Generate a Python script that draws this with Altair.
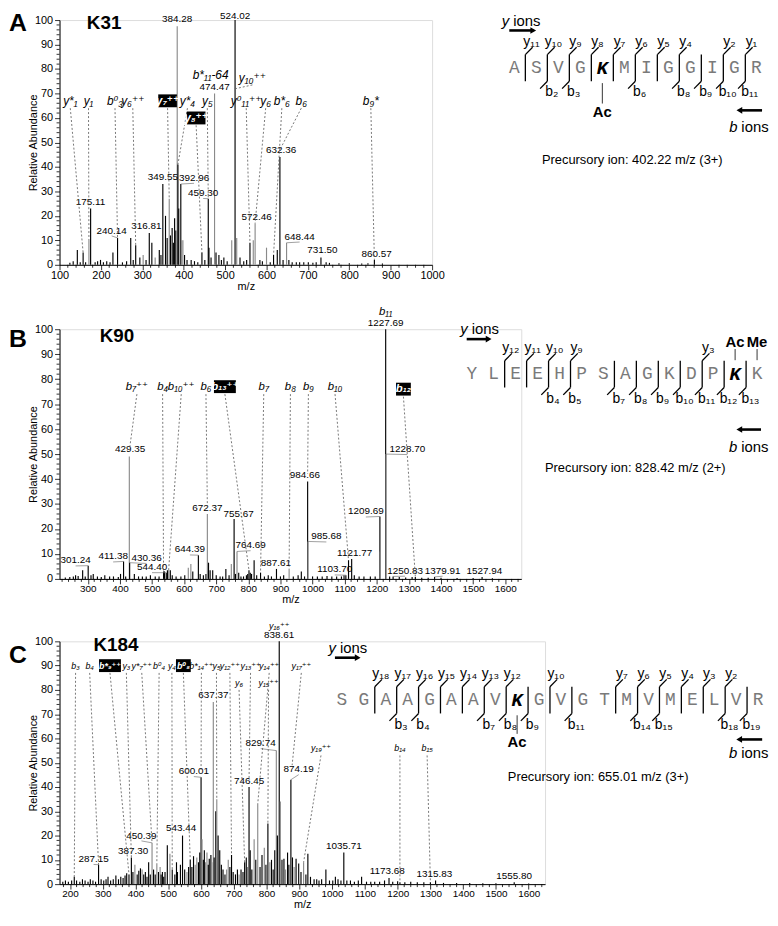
import altair as alt
import pandas as pd

SANS = "Liberation Sans, Arial, DejaVu Sans, sans-serif"
MONO = "Liberation Mono, Courier New, DejaVu Sans Mono, monospace"

# ======================= DATA =======================
# ---------- Panel A : K31 ----------
A_TITLE = "K31"
A_DOMAIN = [100, 1000]
A_MAJOR = [100, 200, 300, 400, 500, 600, 700, 800, 900, 1000]
A_PEAKS = [
    (125, 0.8, "d"), (133, 1.5, "d"), (143, 6, "d"), (150, 1, "d"), (157, 5, "d"), (163, 1, "d"),
    (171, 10, "l"), (175.11, 23, "d"), (186, 1, "d"), (192, 1.5, "d"), (199, 2, "d"), (206, 1, "d"),
    (214, 1.5, "d"), (222, 1, "d"), (229, 5, "d"), (240.14, 11, "d"), (252, 1, "d"), (262, 1.5, "d"),
    (272, 11, "d"), (278, 2, "d"), (284, 8, "d"), (294, 3, "d"), (302, 4, "l"), (309, 2, "d"),
    (316.81, 13, "d"), (323, 9, "d"), (331, 3, "l"), (341, 6, "d"), (345, 4, "d"), (349.55, 33, "d"),
    (356, 20, "d"), (360, 11, "d"), (365, 27, "l"), (368, 12, "d"), (372, 15, "d"), (375, 9, "d"),
    (378, 19, "d"), (381, 14, "d"), (384.28, 97.5, "l"), (386, 41, "d"), (388, 23, "d"),
    (392.96, 33, "d"), (395, 10, "l"), (398, 10, "l"), (402, 4, "d"), (408, 2, "d"), (418, 2, "d"),
    (426, 1.5, "d"), (434, 1, "d"), (444, 5, "d"), (451, 2, "d"), (459.30, 27, "d"), (461, 7, "d"),
    (466, 3, "d"), (474.47, 70, "l"), (478, 5, "d"), (485, 4, "d"), (491, 2, "d"), (497, 3, "d"),
    (505, 1.5, "d"), (516, 10, "l"), (524.02, 100, "d"), (528, 11, "l"), (536, 3, "d"), (545, 1.5, "d"),
    (552, 2, "d"), (560, 9, "d"), (568, 10, "l"), (572.46, 17, "l"), (584, 2, "d"), (590, 1.5, "d"),
    (600, 7, "l"), (609, 1, "d"), (617, 4, "d"), (626, 6, "d"), (632.36, 44, "d"), (640, 2, "d"),
    (648.44, 9, "l"), (654, 2, "d"), (662, 1, "d"), (672, 1, "d"), (680, 1, "d"), (690, 1, "d"),
    (701, 1, "d"), (712, 0.8, "d"), (720, 1, "d"), (731.50, 3, "d"), (744, 1, "d"), (752, 0.8, "d"),
    (775, 0.6, "d"), (800, 0.6, "d"), (830, 0.5, "d"), (845, 0.6, "d"), (860.57, 2, "d"), (880, 0.5, "d"),
]
# (label, peak m/z, peak abundance, label m/z, label abundance)
A_VALUES = [
    ("384.28", 384.28, 97.5, 384.28, 100.6), ("524.02", 524.02, 100, 524.02, 101.7),
    ("474.47", 474.47, 70, 474.47, 72.6), ("632.36", 632.36, 44, 635, 46.8),
    ("349.55", 349.55, 33, 349.55, 35.8), ("392.96", 392.96, 33, 425, 35.5),
    ("459.30", 459.30, 27, 447, 29.3), ("175.11", 175.11, 23, 175.11, 25.8),
    ("240.14", 240.14, 11, 226, 14), ("316.81", 316.81, 13, 310, 16),
    ("572.46", 572.46, 17, 576, 19.6), ("648.44", 648.44, 9, 680, 11.5),
    ("731.50", 731.50, 3, 735, 6), ("860.57", 860.57, 2, 866, 4.5),
]
# (ion label, boxed, label m/z, label abundance, target m/z, target abundance)
A_IONS = [
    ("y*₁", False, 126, 67, 157, 5), ("y₁", False, 170, 67, 171, 10),
    ("b⁰₃", False, 234, 67, 240.14, 11), ("y₆⁺⁺", False, 277, 67, 284, 8),
    ("y₇⁺⁺", True, 361, 67, 365, 27), ("y*₄", False, 409, 67, 386, 41),
    ("y₈⁺⁺", True, 430, 60, 444, 5), ("y₅", False, 457, 67, 459.3, 27),
    ("b*₁₁-64", False, 465, 77.5, None, None), ("y₁₀⁺⁺", False, 566, 76.5, 526, 72),
    ("y⁰₁₁⁺⁺", False, 551, 67, 560, 9), ("y₆", False, 598, 67, 572.46, 17),
    ("b*₆", False, 637, 67, 617, 4), ("b₆", False, 684, 67, 632.36, 47),
    ("b₉*", False, 852, 67, 860.57, 2),
]
A_SEQ = "ASVGKMIGGIGR"
A_MOD_RES = [4]
A_Y_CUTS = [1, 2, 3, 4, 5, 6, 7, 8, 10, 11]
A_B_CUTS = [2, 3, 6, 8, 9, 10, 11]
A_PTMS = [("Ac", 4)]
A_PRECURSOR = "Precursory ion: 402.22 m/z (3+)"

# ---------- Panel B : K90 ----------
B_TITLE = "K90"
B_DOMAIN = [212, 1650]
B_MAJOR = [300, 400, 500, 600, 700, 800, 900, 1000, 1100, 1200, 1300, 1400, 1500, 1600]
B_PEAKS = [
    (230, 0.6, "d"), (244, 0.8, "d"), (255, 1, "d"), (262, 1.5, "d"), (270, 1.2, "d"), (284, 3.5, "d"),
    (292, 1, "d"), (301.24, 5.3, "d"), (310, 1.5, "d"), (317, 2, "d"), (330, 1, "d"), (342, 0.8, "d"),
    (353, 1.5, "d"), (368, 1, "d"), (380, 1, "d"), (395, 0.8, "d"), (402, 2, "d"), (411.38, 7, "d"),
    (418, 1, "d"), (429.35, 49, "l"), (430.36, 6.5, "d"), (445, 2, "d"), (458, 1, "d"), (470, 1, "d"),
    (482, 1, "d"), (495, 1.5, "d"), (510, 1, "d"), (522, 1, "d"), (536, 3, "d"), (539, 3, "d"),
    (544.40, 2.5, "d"), (548, 3.5, "d"), (552, 4, "l"), (557, 3.5, "d"), (563, 1.5, "d"), (575, 1, "d"),
    (590, 1, "d"), (602, 1.5, "d"), (613, 4.5, "l"), (621, 6, "l"), (627, 3, "d"), (644.39, 9.5, "d"),
    (650, 2, "d"), (660, 1.5, "d"), (668, 2, "d"), (672.37, 26, "l"), (676, 6.5, "d"), (681, 3.5, "d"),
    (689, 3.5, "d"), (700, 1.5, "d"), (712, 1, "d"), (720, 1, "d"), (730, 4, "d"), (740, 1.5, "d"),
    (747, 6, "l"), (755.67, 24, "d"), (760, 2, "d"), (764.69, 11, "l"), (770, 2.5, "d"), (777, 1, "d"),
    (785, 1, "d"), (794, 1.5, "d"), (798, 2, "d"), (802, 3.5, "d"), (806, 2.5, "d"), (810, 2, "d"),
    (818, 7.5, "d"), (826, 1.5, "d"), (838, 2.5, "d"), (850, 1, "d"), (862, 1.5, "d"), (872, 1, "d"),
    (887.61, 4, "d"), (900, 1, "d"), (910, 1.5, "d"), (927, 4, "l"), (940, 1, "d"), (955, 1.5, "d"),
    (965, 3, "d"), (975, 1, "d"), (984.66, 39, "d"), (985.68, 15, "l"), (1000, 1, "d"), (1015, 1, "d"),
    (1030, 1, "d"), (1045, 1.2, "d"), (1060, 1, "d"), (1075, 1, "d"), (1090, 1, "d"), (1098, 1.5, "d"),
    (1103.70, 1.5, "d"), (1112, 7.5, "d"), (1121.77, 8, "d"), (1130, 1.5, "d"), (1145, 1, "d"),
    (1160, 1, "d"), (1180, 1, "d"), (1195, 1, "d"), (1209.69, 25, "d"), (1210.7, 11, "l"),
    (1227.69, 100, "d"), (1228.70, 50, "l"), (1240, 1, "d"), (1250.83, 1, "d"), (1270, 0.8, "d"),
    (1290, 0.6, "d"), (1310, 0.8, "d"), (1320, 0.8, "d"), (1340, 0.5, "d"), (1360, 0.5, "d"),
    (1379.91, 0.8, "d"), (1400, 0.5, "d"), (1450, 0.4, "d"), (1500, 0.4, "d"), (1527.94, 0.8, "d"),
    (1560, 0.3, "d"),
]
B_VALUES = [
    ("1227.69", 1227.69, 100, 1227.69, 102.6), ("1228.70", 1228.70, 50, 1295, 52),
    ("429.35", 429.35, 49, 432, 52), ("984.66", 984.66, 39, 976, 41.5),
    ("755.67", 755.67, 24, 770, 26), ("672.37", 672.37, 26, 672.37, 28.3),
    ("1209.69", 1209.69, 25, 1166, 27), ("985.68", 985.68, 15, 1043, 17),
    ("764.69", 764.69, 11, 807, 13.5), ("644.39", 644.39, 9.5, 618, 11.8),
    ("1121.77", 1121.77, 8, 1131, 10.3), ("887.61", 887.61, 4, 886, 6.5),
    ("411.38", 411.38, 7, 379, 9), ("430.36", 430.36, 6.5, 483, 8.4),
    ("544.40", 544.40, 2.5, 500, 4.7), ("301.24", 301.24, 5.3, 262, 7.4),
    ("1103.70", 1103.70, 1.5, 1069, 3.8), ("1250.83", 1250.83, 1, 1288, 3.3),
    ("1379.91", 1379.91, 0.8, 1405, 3.3), ("1527.94", 1527.94, 0.8, 1535, 3.3),
]
B_IONS = [
    ("b₇⁺⁺", False, 453, 77, 430, 52), ("b₄", False, 533, 77, 536, 3),
    ("b₁₀⁺⁺", False, 591, 77, 552, 4), ("b₆", False, 668, 77, 672.37, 29),
    ("b₁₃⁺⁺", True, 727, 77, 802, 3.5), ("b₇", False, 848, 77, 838, 2.5),
    ("b₈", False, 931, 77, 927, 4), ("b₉", False, 987, 77, 984.66, 42),
    ("b₁₀", False, 1070, 77, 1112, 7.5), ("b₁₁", False, 1227.69, 107, None, None),
    ("b₁₂", True, 1283, 76, 1320, 1),
]
B_SEQ = "YLEEHPSAGKDPKK"
B_MOD_RES = [12]
B_Y_CUTS = [2, 3, 4, 5, 11]
B_B_CUTS = [4, 5, 7, 8, 9, 10, 11, 12, 13]
B_PTMS = [("Ac", 12), ("Me", 13)]
B_PRECURSOR = "Precursory ion: 828.42 m/z (2+)"

# ---------- Panel C : K184 ----------
C_TITLE = "K184"
C_DOMAIN = [168, 1650]
C_MAJOR = [200, 300, 400, 500, 600, 700, 800, 900, 1000, 1100, 1200, 1300, 1400, 1500, 1600]
C_PEAKS = [
    (178, 1, "d"), (186, 1.5, "d"), (195, 1, "d"), (205, 1.5, "d"), (213, 3, "d"), (220, 1.5, "d"),
    (230, 1, "d"), (238, 2, "d"), (246, 1.5, "d"), (255, 1, "d"), (262, 2, "d"), (270, 1.5, "d"),
    (278, 1, "d"), (287.15, 8, "d"), (295, 2, "d"), (303, 1.5, "d"), (310, 2, "d"), (316, 3, "d"),
    (324, 1.5, "d"), (332, 2, "d"), (340, 3.5, "d"), (348, 2, "d"), (355, 3, "d"), (362, 2.5, "d"),
    (368, 3.5, "d"), (373, 4.5, "d"), (380, 4, "d"), (387.30, 11, "d"), (392, 5, "d"), (398, 8, "l"),
    (405, 4, "d"), (410, 5.5, "d"), (415, 6.5, "d"), (420, 6, "l"), (425, 4, "d"), (430, 5, "d"),
    (435, 3, "d"), (440, 9, "d"), (445, 4, "d"), (450.39, 17, "l"), (455, 6, "d"), (460, 4, "d"),
    (465, 8.5, "l"), (470, 5, "d"), (475, 7, "l"), (478, 4, "d"), (482, 5, "d"), (486, 3, "d"),
    (490, 5, "d"), (497, 16, "d"), (505, 12.5, "l"), (512, 6, "d"), (520, 4, "d"), (525, 9, "d"),
    (528, 5, "d"), (537, 8, "d"), (543.44, 20, "d"), (550, 6, "d"), (557, 5, "l"), (562, 7, "d"),
    (567, 10, "d"), (572, 7, "d"), (577, 11.5, "d"), (582, 8, "l"), (587, 11, "l"), (592, 9, "d"),
    (596, 13, "d"), (600.01, 44, "d"), (603, 18.5, "l"), (607, 10, "d"), (610, 14, "d"), (614, 9, "l"),
    (618, 13, "l"), (622, 8, "d"), (625, 10.5, "d"), (630, 12, "d"), (633, 9, "l"), (637.37, 75, "l"),
    (640, 11, "d"), (645, 30, "d"), (648, 35, "l"), (652, 20, "d"), (657, 14, "d"), (662, 8, "d"),
    (667, 6, "d"), (673, 4, "d"), (678, 6, "l"), (683, 10, "l"), (688, 7, "d"), (693, 12, "d"),
    (698, 5, "d"), (705, 4, "d"), (711, 6, "d"), (716, 4, "l"), (722, 6, "d"), (728, 5, "d"),
    (733, 9, "d"), (738, 11, "d"), (742, 7, "l"), (746.45, 40, "d"), (750, 14, "d"), (755, 6, "d"),
    (762, 18.5, "l"), (767, 10, "d"), (773, 33, "l"), (780, 7, "d"), (786, 12, "d"), (793, 15, "l"),
    (798, 8, "d"), (804, 25, "d"), (810, 9, "l"), (815, 10, "d"), (820, 6, "d"), (825, 14, "d"),
    (829.74, 55, "l"), (833, 20, "d"), (838.61, 100, "d"), (842, 34, "l"), (847, 10, "d"),
    (853, 10.5, "d"), (858, 6, "l"), (864, 13, "d"), (868, 8, "d"), (874.19, 43, "d"), (879, 11, "d"),
    (884, 7, "l"), (890, 10.5, "d"), (898, 8.5, "d"), (905, 5, "d"), (913, 9, "l"), (920, 4, "d"),
    (926, 12.5, "d"), (934, 3, "d"), (945, 2, "d"), (953, 2, "d"), (960, 1.5, "d"), (968, 2, "d"),
    (981, 6, "d"), (992, 1.5, "d"), (1002, 1.5, "d"), (1010, 3, "d"), (1018, 2, "d"), (1027, 1.5, "d"),
    (1035.71, 13, "d"), (1045, 1.5, "d"), (1056, 1.5, "d"), (1068, 1, "d"), (1080, 1.5, "d"),
    (1090, 3, "d"), (1105, 1, "d"), (1118, 1, "d"), (1130, 1, "d"), (1145, 1, "d"), (1160, 1.5, "d"),
    (1173.68, 2.5, "d"), (1185, 1, "d"), (1200, 1.2, "d"), (1207, 0.8, "d"), (1222, 0.8, "d"),
    (1240, 1, "d"), (1260, 0.8, "d"), (1280, 0.8, "d"), (1300, 0.8, "d"), (1315.83, 1.5, "d"),
    (1340, 0.5, "d"), (1380, 0.5, "d"), (1420, 0.5, "d"), (1460, 0.4, "d"), (1500, 0.4, "d"),
    (1555.80, 0.8, "d"), (1600, 0.3, "d"),
]
C_VALUES = [
    ("838.61", 838.61, 100, 838.61, 102.4), ("637.37", 637.37, 75, 637.37, 77.8),
    ("829.74", 829.74, 55, 782, 58), ("600.01", 600.01, 44, 578, 46.5),
    ("874.19", 874.19, 43, 898, 47.3), ("746.45", 746.45, 40, 746.45, 42.6),
    ("543.44", 543.44, 20, 539, 23), ("450.39", 450.39, 17, 418, 20),
    ("387.30", 387.30, 11, 393, 13.8), ("287.15", 287.15, 8, 272, 10.3),
    ("1035.71", 1035.71, 13, 1036, 15.6), ("1173.68", 1173.68, 2.5, 1168, 5.3),
    ("1315.83", 1315.83, 1.5, 1312, 4.3), ("1555.80", 1555.80, 0.8, 1555.80, 3.5),
]
C_IONS = [
    ("b₃", False, 217, 90, 213, 3), ("b₄", False, 260, 90, 287.15, 8),
    ("b*₉⁺⁺", True, 322, 90, 380, 4), ("y₃", False, 372, 90, 387.30, 11),
    ("y*₇⁺⁺", False, 419, 90, 450.39, 17), ("b⁰₄", False, 472, 90, 465, 8.5),
    ("y₄", False, 511, 90, 512, 6), ("b⁰₈", True, 546, 90, 567, 10),
    ("b*₁₄⁺⁺", False, 601, 90, 600.01, 47), ("y₅", False, 647, 90, 648, 35),
    ("y₁₂⁺⁺", False, 688, 90, 693, 12), ("y₁₃⁺⁺", False, 751, 90, 746.45, 43),
    ("y₁₄⁺⁺", False, 808, 90, 773, 33), ("y₆", False, 716, 83, 733, 9),
    ("y₁₅⁺⁺", False, 806, 83, 804, 25), ("y₁₆⁺⁺", False, 838.61, 106.5, None, None),
    ("y₁₇⁺⁺", False, 906, 90, 878, 49), ("y₁₉⁺⁺", False, 966, 56, 913, 9),
    ("b₁₄", False, 1207, 56, 1207, 0.8), ("b₁₅", False, 1290, 56, 1300, 0.8),
]
C_SEQ = "SGAAGAAVKGVGTMVMELVR"
C_MOD_RES = [8]
C_Y_CUTS = [2, 3, 4, 5, 6, 7, 8, 10, 13, 14, 15, 16, 17, 18]
C_B_CUTS = [3, 4, 7, 8, 9, 11, 14, 15, 18, 19]
C_PTMS = [("Ac", 8)]
C_PRECURSOR = "Precursory ion: 655.01 m/z (3+)"

# ======================= LAYOUT =======================
PLOT_LEFT = 59       # page x of the y axes
ROW = 12.5           # px per row of the peptide diagrams
BAR_TOP, BAR_BOT = 1.05, -1.1
TDX, TDY = 0.33, 0.6

LAYOUT = {
    "A": dict(top=15, height=247, width=376, tick_fs=11, val_fs=10, ion_fs=12,
              letter_y=3, title_x=45, title_y=3, pad_top=15, pad_bottom=30,
              pep_x0=518, pep_sp=22.2, pep_row=63,
              yions=(-0.23, 3.8), yarrow=(-0.23, 0.86, 3.0),
              bions=(10.14, -4.8), barrow=(11.26, 10.23, -3.45),
              prec=(5.36, -7.5), ptm=(-1.25, -2.9, -3.6)),
    "B": dict(top=325, height=252, width=466, tick_fs=10, val_fs=10, ion_fs=11.5,
              letter_y=10, title_x=58, title_y=7, pad_top=27, pad_bottom=30,
              pep_x0=475, pep_sp=22.15, pep_row=370,
              yions=(-0.18, 3.6), yarrow=(-0.23, 0.77, 2.8),
              bions=(12.1, -5.9), barrow=(13.18, 12.19, -4.5),
              prec=(7.45, -7.6), ptm=(1.1, 2.0, 2.55)),
    "C": dict(top=638, height=245, width=490, tick_fs=10, val_fs=10, ion_fs=9,
              letter_y=14, title_x=57, title_y=4, pad_top=25, pad_bottom=0,
              pep_x0=344, pep_sp=22.1, pep_row=697,
              yions=(-0.27, 4.15), yarrow=(-0.32, 0.72, 3.4),
              bions=(18.05, -4.3), barrow=(19.19, 18.14, -3.2),
              prec=(11.7, -6.25), ptm=(-1.25, -2.75, -3.45)),
}
SPACING = 6

SUB = str.maketrans("0123456789", "₀₁₂₃₄₅₆₇₈₉")


def sub(n):
    return str(n).translate(SUB)


BOX_SHAPES = {
    "3": "M-1.15,-1L1.15,-1L1.15,1L-1.15,1Z",
    "4": "M-1.45,-1L1.45,-1L1.45,1L-1.45,1Z",
    "5": "M-1.7,-1L1.7,-1L1.7,1L-1.7,1Z",
}


def spectrum(key, peaks, values, ions, dom, major, title, letter):
    L = LAYOUT[key]
    W, H = L["width"], L["height"]
    px_per = W / (dom[1] - dom[0])
    xs = alt.Scale(domain=dom, nice=False, zero=False)
    ys = alt.Scale(domain=[0, 100], nice=False, zero=False)
    xaxis = alt.Axis(values=major, title="m/z", format="d", labelFlush=False, labelOverlap=False,
                     tickSize=5, tickWidth=0.8, tickColor="black", domainColor="black", domainWidth=1,
                     labelColor="black", titleColor="black", labelFontSize=L["tick_fs"],
                     titleFontSize=11, titleFontWeight="normal", labelPadding=0, titlePadding=0,
                     grid=False, labelFont=SANS, titleFont=SANS)
    yaxis = alt.Axis(values=list(range(0, 101, 10)), title="Relative Abundance", format="d",
                     labelFlush=False, labelOverlap=False, tickSize=5, tickWidth=0.8, tickColor="black",
                     domainColor="black", domainWidth=1, labelColor="black", titleColor="black",
                     labelFontSize=11, titleFontSize=11, titleFontWeight="normal", labelPadding=2,
                     titleX=-26, titleBaseline="middle", grid=False, labelFont=SANS, titleFont=SANS)

    def X(f):
        return alt.X(f"{f}:Q", scale=xs, axis=xaxis)

    def Y(f):
        return alt.Y(f"{f}:Q", scale=ys, axis=yaxis)

    pk = pd.DataFrame(peaks, columns=["mz", "ab", "tone"])
    pk["base"] = 0.0
    peaks_layer = alt.Chart(pk).mark_rule(strokeWidth=1.15).encode(
        x=X("mz"), y=Y("base"), y2=alt.Y2("ab"),
        color=alt.Color("tone:N", scale=alt.Scale(domain=["d", "l"], range=["#000000", "#8a8a8a"]),
                        legend=None))

    xm = [v for v in range(int(dom[0]) - int(dom[0]) % 20 + 20, int(dom[1]) + 1, 20) if v % 100]
    xminor = alt.Chart(pd.DataFrame({"mz": xm})).mark_rule(color="black", strokeWidth=0.8).encode(
        x=X("mz"), y=alt.value(H), y2=alt.value(H + 3))
    ym = [v for v in range(2, 100, 2) if v % 10]
    yminor = alt.Chart(pd.DataFrame({"ab": ym})).mark_rule(color="black", strokeWidth=0.8).encode(
        y=Y("ab"), x=alt.value(0), x2=alt.value(-3))

    vl = pd.DataFrame(values, columns=["t", "pmz", "pab", "lmz", "lab"])
    vl["lab2"] = vl["lab"] - 2.2
    lead = vl[(vl["lmz"] - vl["pmz"]).abs() * px_per > 5]
    val_leaders = alt.Chart(lead).mark_rule(color="#777777", strokeWidth=0.7).encode(
        x=X("pmz"), y=Y("pab"), x2=alt.X2("lmz"), y2=alt.Y2("lab2"))
    val_text = alt.Chart(vl).mark_text(fontSize=L["val_fs"], font=SANS, color="black").encode(
        x=X("lmz"), y=Y("lab"), text="t:N")

    io = pd.DataFrame(ions, columns=["t", "boxed", "lmz", "lab", "tmz", "tab"])
    io["bk"] = io["t"].str.len().clip(3, 5).astype(str)
    il = io.dropna(subset=["tmz"]).copy()
    il["ly"] = il["lab"] - 3.0
    ion_leaders = alt.Chart(il).mark_rule(color="#555555", strokeWidth=0.8, strokeDash=[2, 2]).encode(
        x=X("lmz"), y=Y("ly"), x2=alt.X2("tmz"), y2=alt.Y2("tab"))
    boxed = io[io["boxed"]]
    boxes = alt.Chart(boxed).mark_point(filled=True, color="black", opacity=1, size=169).encode(
        x=X("lmz"), y=Y("lab"),
        shape=alt.Shape("bk:N", scale=alt.Scale(domain=list(BOX_SHAPES), range=list(BOX_SHAPES.values())),
                        legend=None))
    ion_text = alt.Chart(io[~io["boxed"]]).mark_text(fontSize=L["ion_fs"], fontStyle="italic",
                                                      font=SANS, color="black").encode(
        x=X("lmz"), y=Y("lab"), text="t:N")
    box_text = alt.Chart(boxed).mark_text(fontSize=L["ion_fs"], fontStyle="italic", fontWeight="bold",
                                          font=SANS, color="white").encode(
        x=X("lmz"), y=Y("lab"), text="t:N")

    letter_l = alt.Chart(pd.DataFrame({"t": [letter]})).mark_text(
        fontSize=25, fontWeight="bold", font=SANS, align="left", baseline="middle", color="black").encode(
        text="t:N", x=alt.value(-51), y=alt.value(L["letter_y"]))
    title_l = alt.Chart(pd.DataFrame({"t": [title]})).mark_text(
        fontSize=19, fontWeight="bold", font=SANS, align="center", baseline="middle", color="black").encode(
        text="t:N", x=alt.value(L["title_x"]), y=alt.value(L["title_y"]))
    spacer = alt.Chart(pd.DataFrame({"t": [0]})).mark_rule(opacity=0).encode(
        x=alt.value(0), y=alt.value(-L["pad_top"]), y2=alt.value(H + L["pad_bottom"]))

    return alt.layer(peaks_layer, xminor, yminor, val_leaders, val_text, ion_leaders, boxes,
                     ion_text, box_text, letter_l, title_l, spacer)


def peptide(key, seq, mods, ycuts, bcuts, ptms, precursor):
    L = LAYOUT[key]
    n = len(seq)
    r0 = L["pep_x0"] - PLOT_LEFT
    xs = alt.Scale(domain=[0, n - 1], range=[r0, r0 + (n - 1) * L["pep_sp"]], nice=False, zero=False)
    rr = L["pep_row"] - L["top"]
    ys = alt.Scale(domain=[-10, 6], range=[rr + 10 * ROW, rr - 6 * ROW], nice=False, zero=False)

    def X(f):
        return alt.X(f"{f}:Q", scale=xs, axis=None)

    def Y(f):
        return alt.Y(f"{f}:Q", scale=ys, axis=None)

    res = pd.DataFrame({"p": list(range(n)), "r": 0.0, "t": list(seq)})
    res["mod"] = res["p"].isin(mods)
    letters = alt.Chart(res[~res["mod"]]).mark_text(font=MONO, fontSize=18, color="#7a7a7a").encode(
        x=X("p"), y=Y("r"), text="t:N")
    mod_letters = alt.Chart(res[res["mod"]]).mark_text(
        font=MONO, fontSize=19, fontWeight="bold", fontStyle="italic", color="black").encode(
        x=X("p"), y=Y("r"), text="t:N")

    cuts = sorted(set(ycuts) | set(bcuts))
    bars = pd.DataFrame({"p": [k - 0.5 for k in cuts], "r1": BAR_BOT, "r2": BAR_TOP})
    ytk = pd.DataFrame({"p": [k - 0.5 for k in ycuts]})
    ytk["p2"] = ytk["p"] + TDX
    ytk["r1"] = BAR_TOP
    ytk["r2"] = BAR_TOP + TDY
    btk = pd.DataFrame({"p": [k - 0.5 for k in bcuts]})
    btk["p2"] = btk["p"] - TDX
    btk["r1"] = BAR_BOT
    btk["r2"] = BAR_BOT - TDY
    ticks = pd.concat([ytk, btk], ignore_index=True)
    bar_l = alt.Chart(bars).mark_rule(color="black", strokeWidth=1.3).encode(
        x=X("p"), y=Y("r1"), y2=alt.Y2("r2"))
    tick_l = alt.Chart(ticks).mark_rule(color="black", strokeWidth=1.3).encode(
        x=X("p"), y=Y("r1"), x2=alt.X2("p2"), y2=alt.Y2("r2"))
    ylab = pd.DataFrame({"p": [k - 0.5 + 0.28 for k in ycuts], "r": 2.05,
                         "t": ["y" + sub(n - k) for k in ycuts]})
    blab = pd.DataFrame({"p": [k - 0.5 + 0.2 for k in bcuts], "r": -2.0,
                         "t": ["b" + sub(k) for k in bcuts]})
    lab_l = alt.Chart(pd.concat([ylab, blab], ignore_index=True)).mark_text(
        font=SANS, fontSize=14, color="black").encode(x=X("p"), y=Y("r"), text="t:N")

    r_a, r_b, r_t = L["ptm"]
    pt = pd.DataFrame({"t": [p[0] for p in ptms], "p": [p[1] for p in ptms]})
    pt["r1"], pt["r2"], pt["rt"] = r_a, r_b, r_t
    ptm_lines = alt.Chart(pt).mark_rule(color="black", strokeWidth=0.8).encode(
        x=X("p"), y=Y("r1"), y2=alt.Y2("r2"))
    ptm_text = alt.Chart(pt).mark_text(font=SANS, fontSize=15, fontWeight="bold", color="black").encode(
        x=X("p"), y=Y("rt"), text="t:N")

    yp, yr = L["yions"]
    bp, br = L["bions"]
    ion_key = pd.DataFrame({"t": ["y", "b"], "p": [yp, bp], "r": [yr, br]})
    ion_it = alt.Chart(ion_key).mark_text(font=SANS, fontSize=15, fontStyle="italic", align="right",
                                          color="black").encode(x=X("p"), y=Y("r"), text="t:N")
    ion_word = alt.Chart(ion_key.assign(w="ions")).mark_text(font=SANS, fontSize=15, align="left", dx=4,
                                                             color="black").encode(
        x=X("p"), y=Y("r"), text="w:N")
    ya, yb, yrow = L["yarrow"]
    ba, bb, brow = L["barrow"]
    arrows = pd.DataFrame({"p": [ya, ba], "p2": [yb, bb], "r": [yrow, brow],
                           "head": ["triangle-right", "triangle-left"]})
    arrow_l = alt.Chart(arrows).mark_rule(color="black", strokeWidth=2.6).encode(
        x=X("p"), x2=alt.X2("p2"), y=Y("r"))
    head_l = alt.Chart(arrows).mark_point(filled=True, color="black", opacity=1, size=45).encode(
        x=X("p2"), y=Y("r"),
        shape=alt.Shape("head:N", scale=alt.Scale(domain=["triangle-right", "triangle-left"],
                                                  range=["triangle-right", "triangle-left"]), legend=None))
    pp, pr = L["prec"]
    prec_l = alt.Chart(pd.DataFrame({"t": [precursor], "p": [pp], "r": [pr]})).mark_text(
        font=SANS, fontSize=13, color="black").encode(x=X("p"), y=Y("r"), text="t:N")

    return alt.layer(bar_l, tick_l, letters, mod_letters, lab_l, ptm_lines, ptm_text,
                     ion_it, ion_word, arrow_l, head_l, prec_l)


def panel(key, peaks, values, ions, dom, major, title, letter, seq, mods, yc, bc, ptms, prec):
    L = LAYOUT[key]
    spec = spectrum(key, peaks, values, ions, dom, major, title, letter)
    pep = peptide(key, seq, mods, yc, bc, ptms, prec)
    return alt.layer(spec, pep).resolve_scale(x="independent", y="independent", shape="independent").properties(
        width=L["width"], height=L["height"])


pA = panel("A", A_PEAKS, A_VALUES, A_IONS, A_DOMAIN, A_MAJOR, A_TITLE, "A",
           A_SEQ, A_MOD_RES, A_Y_CUTS, A_B_CUTS, A_PTMS, A_PRECURSOR)
pB = panel("B", B_PEAKS, B_VALUES, B_IONS, B_DOMAIN, B_MAJOR, B_TITLE, "B",
           B_SEQ, B_MOD_RES, B_Y_CUTS, B_B_CUTS, B_PTMS, B_PRECURSOR)
pC = panel("C", C_PEAKS, C_VALUES, C_IONS, C_DOMAIN, C_MAJOR, C_TITLE, "C",
           C_SEQ, C_MOD_RES, C_Y_CUTS, C_B_CUTS, C_PTMS, C_PRECURSOR)

chart = alt.vconcat(pA, pB, pC, spacing=SPACING).properties(
    padding={"top": -8, "left": 0, "right": 0, "bottom": 0}
).configure_view(stroke=None).configure(font=SANS, background="white")

chart.save("out.html", embed_options={"renderer": "svg", "actions": False})
